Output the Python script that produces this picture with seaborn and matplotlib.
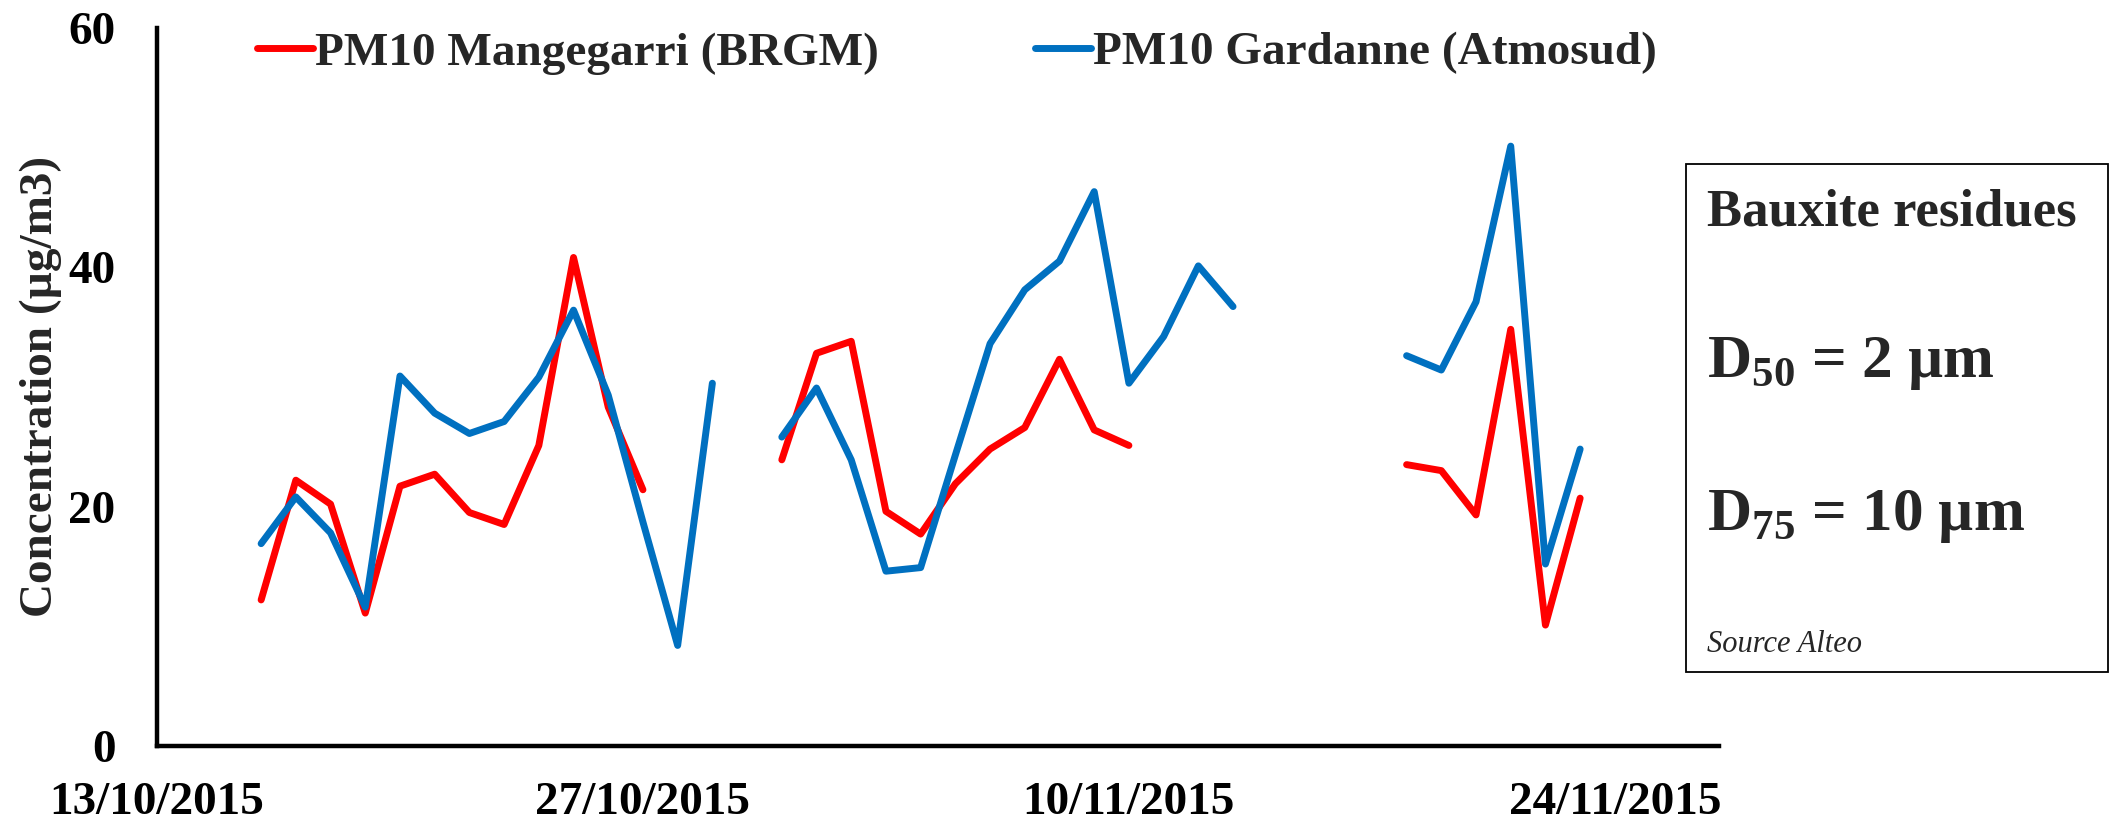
import numpy as np
import pandas as pd
import seaborn as sns
import matplotlib.pyplot as plt
import matplotlib.dates as mdates
from matplotlib.lines import Line2D
from matplotlib.patches import Rectangle

# daily values, 16/10/2015 -> 23/11/2015 (None = no measurement)
days = pd.date_range('2015-10-16', '2015-11-23', freq='D')
mangegarri = [12.2, 22.2, 20.2, 11.1, 21.7, 22.7, 19.5, 18.5, 25.1, 40.8, 28.3, 21.4,
              None, None, None,
              23.9, 32.8, 33.8, 19.6, 17.7, 21.9, 24.8, 26.6, 32.3, 26.4, 25.1,
              None, None, None, None, None, None, None,
              23.5, 23.0, 19.3, 34.8, 10.1, 20.7]
gardanne = [16.9, 20.8, 17.8, 11.6, 30.9, 27.8, 26.1, 27.1, 30.8, 36.4, 29.3, 18.7, 8.4, 30.3,
            None,
            25.8, 29.9, 23.9, 14.6, 14.9, 24.3, 33.6, 38.1, 40.5, 46.3, 30.3, 34.2, 40.1, 36.7,
            None, None, None, None,
            32.6, 31.4, 37.1, 50.1, 15.2, 24.8]
series_names = ['PM10 Mangegarri (BRGM)', 'PM10 Gardanne (Atmosud)']
series_colors = ['#FF0000', '#0070C0']
tick_dates = ['2015-10-13', '2015-10-27', '2015-11-10', '2015-11-24']
y_ticks = [0, 20, 40, 60]

W, H = 2113, 825

sns.set_style('white')
plt.rcParams['font.family'] = ['Liberation Serif', 'DejaVu Serif']
plt.rcParams['font.weight'] = 'bold'
plt.rcParams['axes.labelweight'] = 'bold'
plt.rcParams['mathtext.fontset'] = 'custom'
plt.rcParams['mathtext.rm'] = 'Liberation Serif:bold'
plt.rcParams['mathtext.bf'] = 'Liberation Serif:bold'

frames = []
for name, vals in zip(series_names, [mangegarri, gardanne]):
    s = pd.Series(vals, index=days, dtype=float)
    frames.append(pd.DataFrame({'date': days, 'value': s.values, 'series': name,
                                'segment': s.isna().cumsum().values}))
df = pd.concat(frames).dropna()

fig = plt.figure(figsize=(W / 100, H / 100), dpi=100)
ax = fig.add_axes([157 / W, 1 - 746 / H, (1719 - 157) / W, (746 - 27.6) / H])

sns.lineplot(data=df, x='date', y='value', hue='series', units='segment', estimator=None,
             palette=dict(zip(series_names, series_colors)), linewidth=5,
             solid_capstyle='round', solid_joinstyle='round', legend=False, ax=ax)

ax.set_xlim(pd.Timestamp('2015-10-13'), pd.Timestamp('2015-11-27'))
ax.set_ylim(0, 60)
ax.set_xticks(pd.to_datetime(tick_dates))
ax.xaxis.set_major_formatter(mdates.DateFormatter('%d/%m/%Y'))
ax.set_yticks(y_ticks)
ax.tick_params(axis='both', direction='in', length=8.6, width=2.8, labelsize=34, colors='black')
ax.tick_params(axis='x', pad=26)
ax.tick_params(axis='y', pad=30)
sns.despine(ax=ax)
for sp in ['left', 'bottom']:
    ax.spines[sp].set_linewidth(3.2)
    ax.spines[sp].set_color('black')
ax.set_xlabel('')
ax.set_ylabel('Concentration (µg/m3)', fontsize=34)
ax.yaxis.set_label_coords((62 - 157) / ((1719 - 157)), 0.5)

handles = [Line2D([], [], color=c, lw=5, solid_capstyle='round') for c in series_colors]
fig.legend(handles, series_names, loc='center left', bbox_to_anchor=(257 / W, 1 - 53 / H),
           ncol=2, frameon=False, fontsize=34, handlelength=1.18, handletextpad=0.05,
           columnspacing=3.3, borderpad=0, borderaxespad=0)

# info box
fig.patches.append(Rectangle((1686 / W, 1 - 672 / H), (2108 - 1686) / W, (672 - 164) / H,
                             transform=fig.transFigure, fill=False, edgecolor='black', lw=1.3))
fig.text(1707 / W, 1 - 225 / H, 'Bauxite residues', fontsize=38, fontweight='bold')
fig.text(1707 / W, 1 - 377 / H, r'D$_{\mathbf{50}}$ = 2 µm', fontsize=44, fontweight='bold')
fig.text(1707 / W, 1 - 530 / H, r'D$_{\mathbf{75}}$ = 10 µm', fontsize=44, fontweight='bold')
fig.text(1707 / W, 1 - 652 / H, 'Source Alteo', fontsize=22, fontweight='normal', fontstyle='italic')

fig.savefig('out.png', dpi=100)
